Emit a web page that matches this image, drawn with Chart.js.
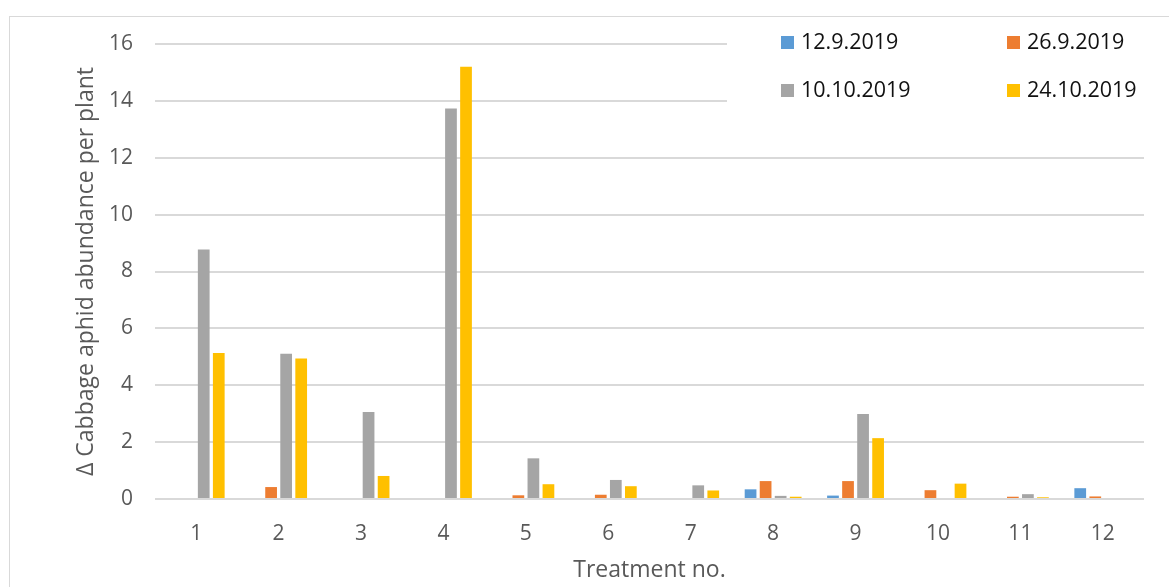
<!DOCTYPE html>
<html>
<head>
<meta charset="utf-8">
<script src="https://cdn.jsdelivr.net/npm/chart.js@4"></script>
<style>
  html, body { margin: 0; padding: 0; background: #fff; overflow: hidden; }
  #frame {
    position: absolute; left: 9px; top: 16px; width: 1200px; height: 620px;
    border: 1px solid #d9d9d9; box-sizing: border-box;
  }
  #chart { position: absolute; left: 0; top: 0; }
</style>
</head>
<body>
<div id="frame"></div>
<canvas id="chart" width="1169" height="587"></canvas>
<script>
const treatments = ["1", "2", "3", "4", "5", "6", "7", "8", "9", "10", "11", "12"];
const seriesNames = ["12.9.2019", "26.9.2019", "10.10.2019", "24.10.2019"];
const sep12 = [null, null, null, null, null, null, null, 0.34, 0.12, null, null, 0.38];
const sep26 = [null, 0.42, null, null, 0.13, 0.15, null, 0.63, 0.63, 0.31, 0.08, 0.09];
const oct10 = [8.77, 5.11, 3.06, 13.73, 1.43, 0.67, 0.48, 0.11, 2.99, null, 0.17, null];
const oct24 = [5.13, 4.94, 0.81, 15.2, 0.52, 0.45, 0.3, 0.08, 2.14, 0.54, 0.06, null];
const yTicks = [0, 2, 4, 6, 8, 10, 12, 14, 16];

const colors = ["#5b9bd5", "#ed7d31", "#a5a5a5", "#ffc000"];
const FONT = "'Open Sans', 'Noto Sans', sans-serif";

// legend drawn inside the plot, on a white box over the top gridlines
const boxLegend = {
  id: "boxLegend",
  afterDraw(chart) {
    const ctx = chart.ctx;
    ctx.save();
    ctx.fillStyle = "#fff";
    ctx.fillRect(727, 18, 425, 100);
    ctx.font = "21.5px " + FONT;
    ctx.textBaseline = "middle";
    ctx.textAlign = "left";
    const cols = [781, 1007];
    const rows = [42, 90];
    chart.data.datasets.forEach((ds, i) => {
      const x = cols[i % 2];
      const y = rows[Math.floor(i / 2)];
      ctx.fillStyle = ds.backgroundColor;
      ctx.fillRect(x, y - 6, 13, 13);
      ctx.fillStyle = "#111";
      ctx.fillText(ds.label, x + 20, y + 1);
    });
    ctx.restore();
  }
};

const datasets = [sep12, sep26, oct10, oct24].map((d, i) => ({
  label: seriesNames[i],
  data: d,
  backgroundColor: colors[i],
  borderWidth: 0,
  categoryPercentage: 0.73,
  barPercentage: 0.78
}));

new Chart(document.getElementById("chart"), {
  type: "bar",
  data: { labels: treatments, datasets: datasets },
  options: {
    responsive: false,
    animation: false,
    devicePixelRatio: 1,
    layout: { padding: { left: 0, top: 44, right: 25, bottom: 0 } },
    plugins: {
      legend: { display: false },
      tooltip: { enabled: false }
    },
    scales: {
      x: {
        grid: { display: false },
        border: { display: false },
        ticks: { color: "#595959", font: { family: FONT, size: 21 }, padding: 14 },
        title: {
          display: true,
          text: "Treatment no.",
          color: "#595959",
          font: { family: FONT, size: 23 },
          padding: { top: 0, bottom: 3 }
        },
        afterFit(scale) { scale.height = 88; }
      },
      y: {
        min: 0,
        max: 16,
        afterBuildTicks(scale) { scale.ticks = yTicks.map(v => ({ value: v })); },
        grid: { color: "#d9d9d9", lineWidth: 2, drawTicks: false },
        border: { display: false },
        ticks: { color: "#595959", font: { family: FONT, size: 21 }, padding: 22 },
        title: {
          display: true,
          text: "Δ Cabbage aphid abundance per plant",
          color: "#595959",
          font: { family: FONT, size: 23 },
          padding: { top: 73, bottom: 0 }
        },
        afterFit(scale) { scale.width = 155; }
      }
    }
  },
  plugins: [boxLegend]
});
</script>
</body>
</html>
